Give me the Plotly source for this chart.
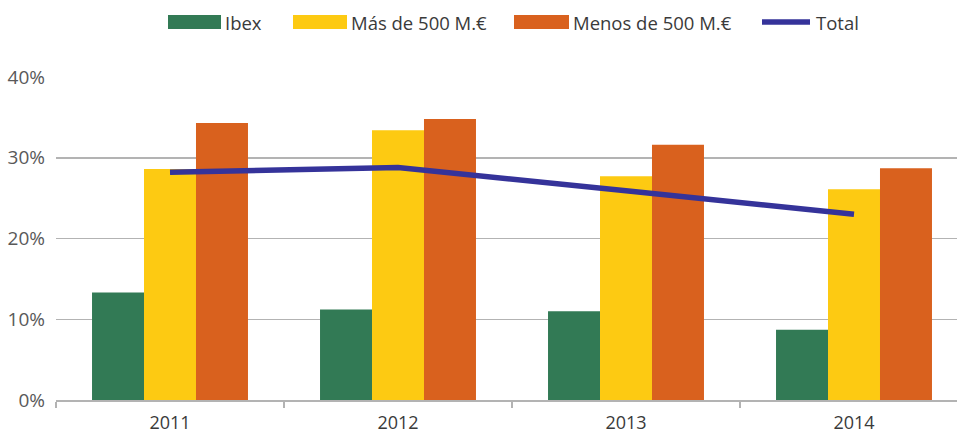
import plotly.graph_objects as go

years = ["2011", "2012", "2013", "2014"]
ibex = [13.3, 11.2, 11.0, 8.7]
mas_500 = [28.6, 33.4, 27.7, 26.1]
menos_500 = [34.3, 34.8, 31.6, 28.7]
total = [28.2, 28.8, 25.9, 23.0]

names = ["Ibex", "Más de 500 M.€", "Menos de 500 M.€", "Total"]
y_ticks = [0, 10, 20, 30, 40]
y_tick_labels = ["0%", "10%", "20%", "30%", "40%"]

colors = ["#327a55", "#fdca12", "#d9611e", "#35339a"]

W, H = 957, 434
ML, MR, MT, MB = 56, 0, 77, 34
PW, PH = W - ML - MR, H - MT - MB

fig = go.Figure()
for name, vals, col in zip(names[:3], [ibex, mas_500, menos_500], colors[:3]):
    fig.add_trace(go.Bar(x=years, y=vals, name=name, marker=dict(color=col, line=dict(width=0)),
                         showlegend=False))
fig.add_trace(go.Scatter(x=years, y=total, name=names[3], mode="lines",
                         line=dict(color=colors[3], width=5.5), showlegend=False))

# manual legend (pixel positions -> paper coords)
def px(x):
    return (x - ML) / PW

def py(y):
    return (H - MB - y) / PH

legend_items = [(168, 221, 225), (293, 347, 351), (514, 569, 573), (760, 812, 816)]
shapes = []
annotations = []
for i, (x0, x1, tx) in enumerate(legend_items):
    if i < 3:
        shapes.append(dict(type="rect", xref="paper", yref="paper", x0=px(x0), x1=px(x1),
                           y0=py(29), y1=py(15), fillcolor=colors[i], line=dict(width=0)))
    else:
        shapes.append(dict(type="line", xref="paper", yref="paper", x0=px(x0 + 2), x1=px(x1 - 2),
                           y0=py(22), y1=py(22), line=dict(color=colors[i], width=5.5)))
    annotations.append(dict(text=names[i], xref="paper", yref="paper", x=px(tx - 2), y=py(22.5),
                            xanchor="left", yanchor="middle", showarrow=False,
                            font=dict(family="Open Sans", size=18.5, color="#3a3a3a")))

fig.update_layout(
    width=W, height=H,
    margin=dict(l=ML, r=MR, t=MT, b=MB, autoexpand=False),
    paper_bgcolor="white", plot_bgcolor="white",
    barmode="group", bargap=0.316, bargroupgap=0,
    shapes=shapes, annotations=annotations,
    font=dict(family="Open Sans", size=18, color="#595959"),
    hovermode=False,
)
fig.update_xaxes(type="category", range=[-0.5, -0.5 + PW / 228.0], automargin=False,
                 showline=True, linecolor="#b3b3b3", linewidth=1.5,
                 ticks="outside", tickson="boundaries", ticklen=6, tickcolor="#b3b3b3",
                 tickwidth=1.5, showgrid=False, ticklabelstandoff=6,
                 tickfont=dict(size=18, color="#3a3a3a"))
fig.update_yaxes(range=[0, 40], tickvals=y_ticks, ticktext=y_tick_labels, automargin=False,
                 showgrid=True, gridcolor="#b3b3b3", gridwidth=1.5, zeroline=False,
                 showline=False, ticks="", ticklabelstandoff=10,
                 tickfont=dict(size=19, color="#595959"))

fig.write_html("out.html", config={"displayModeBar": False, "staticPlot": True},
               post_script="document.body.style.margin='0';document.body.style.overflow='hidden';")
